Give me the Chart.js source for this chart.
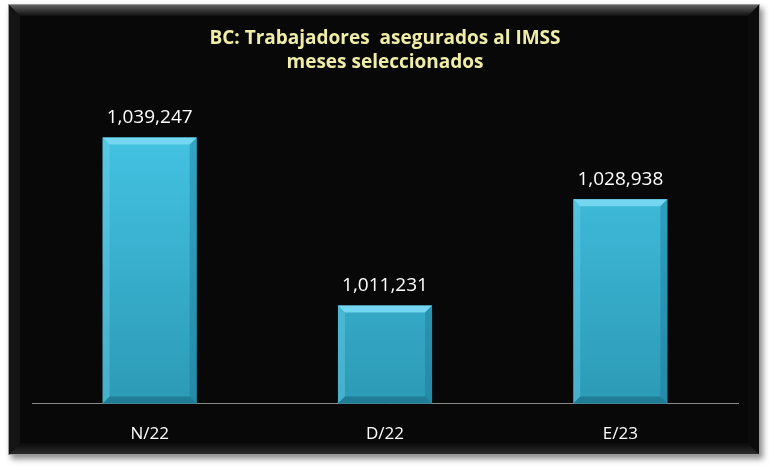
<!DOCTYPE html>
<html>
<head>
<meta charset="utf-8">
<script src="https://cdn.jsdelivr.net/npm/chart.js@4.4.0/dist/chart.umd.min.js"></script>
<style>
  html,body{margin:0;padding:0;background:#ffffff;}
  #wrap{width:769px;height:468px;position:relative;}
</style>
</head>
<body>
<div id="wrap"><canvas id="c" width="769" height="468"></canvas></div>
<script>
const categories = ["N/22", "D/22", "E/23"];
const workers = [1039247, 1011231, 1028938];
const titleLines = ["BC: Trabajadores  asegurados al IMSS", "meses seleccionados"];
const yMin = 994900;
const yMax = 1048760;

const fmt = v => v.toLocaleString('en-US');

const panelPlugin = {
  id: 'panel',
  beforeDraw(chart) {
    const ctx = chart.ctx;
    const L = 8, T = 4, R = 760, B = 455, bv = 12;
    ctx.save();
    ctx.shadowColor = 'rgba(0,0,0,0.45)';
    ctx.shadowBlur = 6;
    ctx.shadowOffsetX = 3;
    ctx.shadowOffsetY = 4;
    ctx.fillStyle = '#080808';
    ctx.fillRect(L, T, R - L, B - T);
    ctx.restore();
    ctx.save();
    let g = ctx.createLinearGradient(0, T, 0, T + bv);
    g.addColorStop(0, '#6a6a6a');
    g.addColorStop(0.5, '#3a3a3a');
    g.addColorStop(1, '#101010');
    ctx.fillStyle = g;
    ctx.beginPath();
    ctx.moveTo(L, T); ctx.lineTo(R, T); ctx.lineTo(R - bv, T + bv); ctx.lineTo(L + bv, T + bv); ctx.closePath();
    ctx.fill();
    g = ctx.createLinearGradient(0, B - bv, 0, B);
    g.addColorStop(0, '#0a0a0a');
    g.addColorStop(1, '#2e2e2e');
    ctx.fillStyle = g;
    ctx.beginPath();
    ctx.moveTo(L, B); ctx.lineTo(R, B); ctx.lineTo(R - bv, B - bv); ctx.lineTo(L + bv, B - bv); ctx.closePath();
    ctx.fill();
    ctx.fillStyle = '#141414';
    ctx.beginPath();
    ctx.moveTo(L, T); ctx.lineTo(L + bv, T + bv); ctx.lineTo(L + bv, B - bv); ctx.lineTo(L, B); ctx.closePath();
    ctx.fill();
    ctx.fillStyle = '#0c0c0c';
    ctx.beginPath();
    ctx.moveTo(R, T); ctx.lineTo(R - bv, T + bv); ctx.lineTo(R - bv, B - bv); ctx.lineTo(R, B); ctx.closePath();
    ctx.fill();
    ctx.strokeStyle = '#9a9a9a';
    ctx.lineWidth = 1;
    ctx.strokeRect(L + 0.5, T + 0.5, R - L - 1, B - T - 1);
    ctx.restore();
  }
};

const bevelPlugin = {
  id: 'bevel',
  afterDatasetsDraw(chart) {
    const ctx = chart.ctx;
    const area = chart.chartArea;
    const meta = chart.getDatasetMeta(0);
    meta.data.forEach((bar, i) => {
      const p = bar.getProps(['x', 'y', 'base', 'width'], true);
      const l = p.x - p.width / 2, r = p.x + p.width / 2, t = p.y, b = Math.min(p.base, area.bottom);
      const s = 7;
      ctx.save();
      ctx.fillStyle = '#74d6f0';
      ctx.beginPath();
      ctx.moveTo(l, t); ctx.lineTo(r, t); ctx.lineTo(r - s, t + s); ctx.lineTo(l + s, t + s); ctx.closePath(); ctx.fill();
      ctx.fillStyle = 'rgba(120,215,240,0.35)';
      ctx.beginPath();
      ctx.moveTo(l, t); ctx.lineTo(l + s, t + s); ctx.lineTo(l + s, b - s); ctx.lineTo(l, b); ctx.closePath(); ctx.fill();
      ctx.fillStyle = 'rgba(20,110,140,0.35)';
      ctx.beginPath();
      ctx.moveTo(r, t); ctx.lineTo(r - s, t + s); ctx.lineTo(r - s, b - s); ctx.lineTo(r, b); ctx.closePath(); ctx.fill();
      ctx.fillStyle = 'rgba(20,100,125,0.55)';
      ctx.beginPath();
      ctx.moveTo(l, b); ctx.lineTo(r, b); ctx.lineTo(r - s, b - s); ctx.lineTo(l + s, b - s); ctx.closePath(); ctx.fill();
      ctx.fillStyle = '#ffffff';
      ctx.font = '19px "Open Sans", sans-serif';
      ctx.textAlign = 'center';
      ctx.textBaseline = 'middle';
      ctx.fillText(fmt(workers[i]), p.x, t - 20);
      ctx.restore();
    });
  }
};

new Chart(document.getElementById('c'), {
  type: 'bar',
  data: {
    labels: categories,
    datasets: [{
      data: workers,
      backgroundColor: (c) => {
        const area = c.chart.chartArea;
        if (!area) return '#3cbcdc';
        const g = c.chart.ctx.createLinearGradient(0, 130, 0, area.bottom);
        g.addColorStop(0, '#44c3e3');
        g.addColorStop(1, '#2c9ab6');
        return g;
      },
      borderWidth: 0,
      barPercentage: 0.4,
      categoryPercentage: 1.0
    }]
  },
  options: {
    responsive: false,
    animation: false,
    events: [],
    layout: { padding: { left: 32, right: 31, top: 0, bottom: 12 } },
    plugins: {
      legend: { display: false },
      tooltip: { enabled: false },
      title: {
        display: true,
        text: titleLines,
        color: '#f0eea6',
        font: { family: '"Open Sans", sans-serif', size: 19, weight: 'bold', lineHeight: 1.3 },
        padding: { top: 26, bottom: 5 }
      }
    },
    scales: {
      x: {
        grid: { display: false },
        border: { display: true, color: '#8a8a8a', width: 1 },
        ticks: { color: '#ffffff', font: { family: '"Open Sans", sans-serif', size: 17 }, padding: 12 }
      },
      y: {
        display: false,
        min: yMin,
        max: yMax
      }
    }
  },
  plugins: [panelPlugin, bevelPlugin]
});
</script>
</body>
</html>
